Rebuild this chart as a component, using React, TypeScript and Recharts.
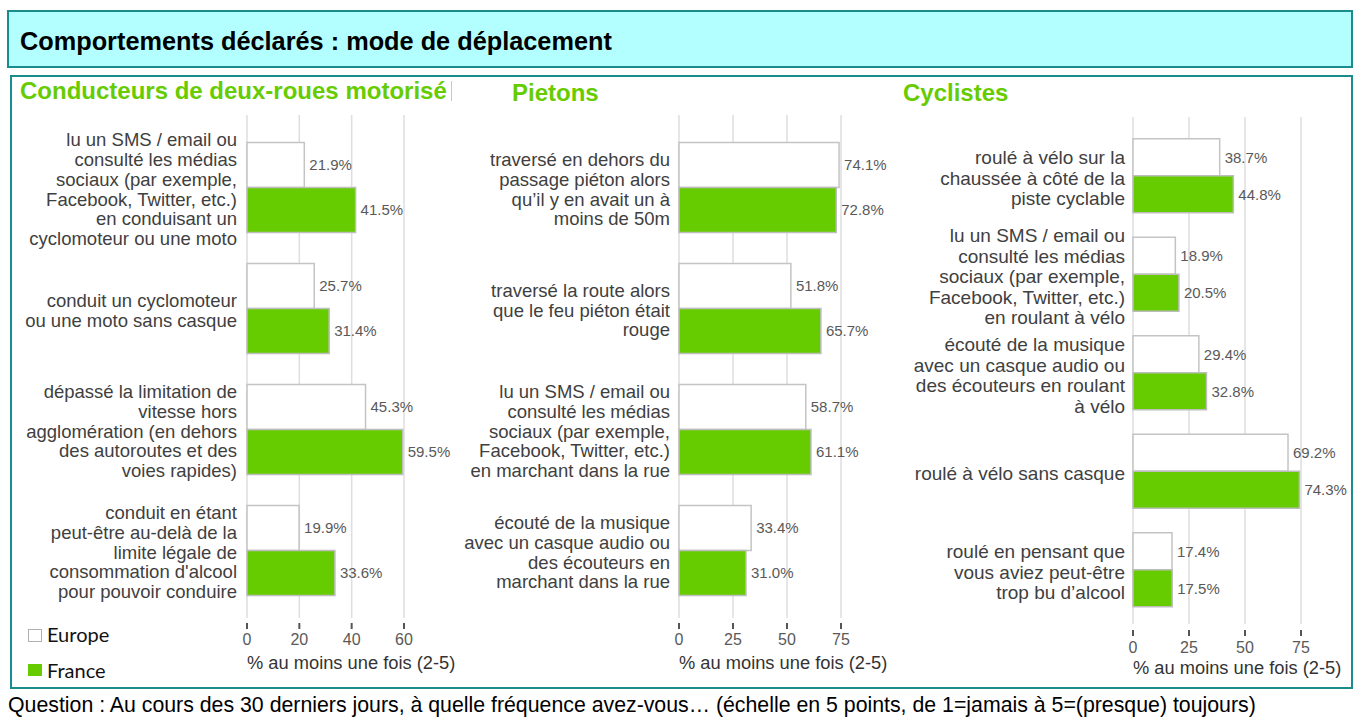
import React from 'react';
import { BarChart, Bar, XAxis, YAxis, CartesianGrid, LabelList } from 'recharts';

// Conducteurs de deux-roues motorisés
const motoCategories = [
  'lu un SMS / email ou\nconsulté les médias\nsociaux (par exemple,\nFacebook, Twitter, etc.)\nen conduisant un\ncyclomoteur ou une moto',
  'conduit un cyclomoteur\nou une moto sans casque',
  'dépassé la limitation de\nvitesse hors\nagglomération (en dehors\ndes autoroutes et des\nvoies rapides)',
  "conduit en étant\npeut-être au-delà de la\nlimite légale de\nconsommation d'alcool\npour pouvoir conduire",
];
const motoEurope = [21.9, 25.7, 45.3, 19.9];
const motoFrance = [41.5, 31.4, 59.5, 33.6];

// Piétons
const pietonCategories = [
  'traversé en dehors du\npassage piéton alors\nqu’il y en avait un à\nmoins de 50m',
  'traversé la route alors\nque le feu piéton était\nrouge',
  'lu un SMS / email ou\nconsulté les médias\nsociaux (par exemple,\nFacebook, Twitter, etc.)\nen marchant dans la rue',
  'écouté de la musique\navec un casque audio ou\ndes écouteurs en\nmarchant dans la rue',
];
const pietonEurope = [74.1, 51.8, 58.7, 33.4];
const pietonFrance = [72.8, 65.7, 61.1, 31.0];

// Cyclistes
const cyclisteCategories = [
  'roulé à vélo sur la\nchaussée à côté de la\npiste cyclable',
  'lu un SMS / email ou\nconsulté les médias\nsociaux (par exemple,\nFacebook, Twitter, etc.)\nen roulant à vélo',
  'écouté de la musique\navec un casque audio ou\ndes écouteurs en roulant\nà vélo',
  'roulé à vélo sans casque',
  'roulé en pensant que\nvous aviez peut-être\ntrop bu d’alcool',
];
const cyclisteEurope = [38.7, 18.9, 29.4, 69.2, 17.4];
const cyclisteFrance = [44.8, 20.5, 32.8, 74.3, 17.5];

const ticks60 = [0, 20, 40, 60];
const ticks75 = [0, 25, 50, 75];
const seriesNames = ['Europe', 'France'];
const axisTitle = '% au moins une fois (2-5)';

const GREEN = '#66cc00';
const TEAL = '#1b8c8c';
const FONT = '"Liberation Sans", Arial, sans-serif';

const buildRows = (cats: string[], eu: number[], fr: number[]) =>
  cats.map((c, i) => ({ category: c, europe: eu[i], france: fr[i] }));

function CategoryTick({ x, y, payload, fontSize, lineHeight, gap }: any) {
  const lines = String(payload.value).split('\n');
  const first = y + 2 - ((lines.length - 1) * lineHeight) / 2;
  return (
    <text textAnchor="end" fill="#404040" fontSize={fontSize} fontFamily={FONT}>
      {lines.map((l, i) => (
        <tspan key={i} x={x - gap} y={first + i * lineHeight} dy="0.36em">
          {l}
        </tspan>
      ))}
    </text>
  );
}

function ValueTick({ x, y, payload, lineTop, textY }: any) {
  return (
    <g>
      <line x1={x} x2={x} y1={y + lineTop} y2={y + lineTop + 6} stroke="#555" strokeWidth={2} />
      <text x={x} y={y + textY} textAnchor="middle" fill="#595959" fontSize={16} fontFamily={FONT}>
        {payload.value}
      </text>
    </g>
  );
}

function Panel(props: any) {
  const { left, top, width, height, margin, yWidth, xHeight, domain, ticks, rows, barSize,
    padTop, padBottom, fontSize, lineHeight, gap, lineTop, textY } = props;
  return (
    <div style={{ position: 'absolute', left, top }}>
      <BarChart
        layout="vertical"
        width={width}
        height={height}
        data={rows}
        margin={margin}
        barGap={0}
        barSize={barSize}
        style={{ fontFamily: FONT }}
      >
        <CartesianGrid horizontal={false} stroke="#dedede" strokeWidth={1.5} />
        <XAxis
          type="number"
          domain={domain}
          ticks={ticks}
          axisLine={false}
          tickLine={false}
          tickSize={0}
          tickMargin={0}
          height={xHeight}
          tick={(p: any) => <ValueTick {...p} lineTop={lineTop} textY={textY} />}
          label={{ value: axisTitle, position: 'insideBottomLeft', offset: 0, fill: '#333', fontSize: 18.3 }}
        />
        <YAxis
          type="category"
          dataKey="category"
          width={yWidth}
          axisLine={false}
          tickLine={false}
          tickSize={0}
          tickMargin={0}
          interval={0}
          padding={{ top: padTop, bottom: padBottom }}
          tick={(p: any) => <CategoryTick {...p} fontSize={fontSize} lineHeight={lineHeight} gap={gap} />}
        />
        <Bar dataKey="europe" name={seriesNames[0]} fill="#ffffff" stroke="#c4c4c4" strokeWidth={1.5} isAnimationActive={false}>
          <LabelList dataKey="europe" position="right" offset={5} fill="#595959" fontSize={15}
            formatter={(v: any) => `${Number(v).toFixed(1)}%`} />
        </Bar>
        <Bar dataKey="france" name={seriesNames[1]} fill={GREEN} stroke="#bdbdbd" strokeWidth={1.5} isAnimationActive={false}>
          <LabelList dataKey="france" position="right" offset={5} fill="#595959" fontSize={15}
            formatter={(v: any) => `${Number(v).toFixed(1)}%`} />
        </Bar>
      </BarChart>
    </div>
  );
}

const titleStyle: React.CSSProperties = {
  position: 'absolute',
  color: GREEN,
  fontWeight: 'bold',
  fontSize: 24,
  lineHeight: '24px',
  whiteSpace: 'nowrap',
  fontFamily: FONT,
};

export default function App() {
  return (
    <div style={{ position: 'absolute', left: 0, top: 0, width: 1364, height: 726, background: '#fff', fontFamily: FONT }}>
      {/* bandeau */}
      <div style={{ position: 'absolute', left: 7, top: 10, width: 1346, height: 58, boxSizing: 'border-box',
        border: `2px solid ${TEAL}`, background: '#b3ffff' }} />
      <div style={{ position: 'absolute', left: 20, top: 29, fontSize: 25.3, lineHeight: '25px', fontWeight: 'bold',
        color: '#000', whiteSpace: 'nowrap' }}>
        Comportements déclarés : mode de déplacement
      </div>

      {/* cadre */}
      <div style={{ position: 'absolute', left: 10, top: 75, width: 1343, height: 614, boxSizing: 'border-box',
        border: `2px solid ${TEAL}` }} />

      <div style={{ ...titleStyle, left: 20, top: 79 }}>
        Conducteurs de deux-roues motorisé
        <span style={{ display: 'inline-block', width: 1, height: 20, background: '#c8c8c8', marginLeft: 4, verticalAlign: -2 }} />
      </div>
      <div style={{ ...titleStyle, left: 512, top: 81 }}>Pietons</div>
      <div style={{ ...titleStyle, left: 903, top: 81 }}>Cyclistes</div>

      <Panel
        left={10} top={100} width={445} height={577}
        margin={{ top: 15, right: 51, bottom: 8, left: 0 }}
        yWidth={237} xHeight={51}
        domain={[0, 60]} ticks={ticks60}
        rows={buildRows(motoCategories, motoEurope, motoFrance)}
        barSize={45} padTop={11.5} padBottom={7.5}
        fontSize={18.5} lineHeight={19.8} gap={10} lineTop={5} textY={26.7}
      />
      <Panel
        left={455} top={100} width={440} height={577}
        margin={{ top: 15, right: 54, bottom: 8, left: 0 }}
        yWidth={224} xHeight={51}
        domain={[0, 75]} ticks={ticks75}
        rows={buildRows(pietonCategories, pietonEurope, pietonFrance)}
        barSize={45} padTop={11.5} padBottom={7.5}
        fontSize={18.5} lineHeight={19.8} gap={9} lineTop={5} textY={26.7}
      />
      <Panel
        left={895} top={100} width={455} height={582}
        margin={{ top: 17, right: 49, bottom: 8, left: 0 }}
        yWidth={238} xHeight={50}
        domain={[0, 75]} ticks={ticks75}
        rows={buildRows(cyclisteCategories, cyclisteEurope, cyclisteFrance)}
        barSize={37} padTop={9.75} padBottom={4.75}
        fontSize={19} lineHeight={20.5} gap={8} lineTop={6} textY={28.7}
      />

      {/* légende */}
      <div style={{ position: 'absolute', left: 28, top: 629, width: 14, height: 13, boxSizing: 'border-box',
        border: '1.5px solid #b0b0b0', background: '#fff' }} />
      <div style={{ position: 'absolute', left: 47, top: 622, fontFamily: 'Lato, sans-serif', fontSize: 20,
        lineHeight: '24px', color: '#111' }}>{seriesNames[0]}</div>
      <div style={{ position: 'absolute', left: 28, top: 664, width: 14, height: 12, background: GREEN }} />
      <div style={{ position: 'absolute', left: 47, top: 658, fontFamily: 'Lato, sans-serif', fontSize: 20,
        lineHeight: '24px', color: '#111' }}>{seriesNames[1]}</div>

      {/* question */}
      <div style={{ position: 'absolute', left: 8, top: 694, fontSize: 21.3, lineHeight: '22px', color: '#000',
        whiteSpace: 'nowrap' }}>
        Question : Au cours des 30 derniers jours, à quelle fréquence avez-vous… (échelle en 5 points, de 1=jamais à 5=(presque) toujours)
      </div>
    </div>
  );
}
